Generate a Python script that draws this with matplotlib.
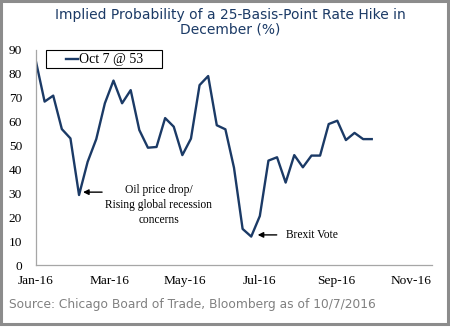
import matplotlib
matplotlib.use("Agg")
import matplotlib.pyplot as plt
from matplotlib.patches import Rectangle
from matplotlib.lines import Line2D
import datetime as dt

# Weekly observations (day offsets from Jan 1, 2016)
start = dt.date(2016, 1, 1)
week_index = list(range(40))
probability = [85.1, 68.4, 70.9, 56.9, 53.0, 29.3, 43.2, 52.7, 67.7, 77.2,
               67.7, 73.2, 56.5, 49.1, 49.4, 61.5, 57.9, 46.0, 52.9, 75.3,
               79.1, 58.5, 56.8, 40.7, 15.1, 11.9, 20.5, 43.7, 45.1, 34.5,
               46.0, 40.9, 45.8, 45.8, 59.0, 60.4, 52.3, 55.3, 52.7, 52.7]
tick_dates = [dt.date(2016, 1, 1), dt.date(2016, 3, 1), dt.date(2016, 5, 1),
              dt.date(2016, 7, 1), dt.date(2016, 9, 1), dt.date(2016, 11, 1)]
tick_labels = ["Jan-16", "Mar-16", "May-16", "Jul-16", "Sep-16", "Nov-16"]
y_ticks = [0, 10, 20, 30, 40, 50, 60, 70, 80, 90]
legend_label = "Oct 7 @ 53"

days = [w * 7 for w in week_index]
tick_pos = [(d - start).days for d in tick_dates]

navy = "#1b3a66"
serif = "Liberation Serif"

fig = plt.figure(figsize=(4.5, 3.27), dpi=100)
fig.patch.set_facecolor("white")
ax = fig.add_axes([0.08, 0.1896, 0.88, 0.6575])

ax.plot(days, probability, color=navy, lw=1.7)
ax.set_xlim(0, 322)
ax.set_ylim(0, 90)
ax.set_xticks(tick_pos)
ax.set_xticklabels(tick_labels, fontfamily=serif, fontsize=9.6)
ax.set_yticks(y_ticks)
ax.set_yticklabels([str(v) for v in y_ticks], fontfamily=serif, fontsize=9.6)
ax.tick_params(axis="y", length=0, pad=10)
ax.tick_params(axis="x", length=0, pad=7)
for s in ["top", "right"]:
    ax.spines[s].set_visible(False)
for s in ["left", "bottom"]:
    ax.spines[s].set_color("#a6a6a6")
    ax.spines[s].set_linewidth(0.9)

# Legend box (drawn in axes coordinates)
ax.add_patch(Rectangle((0.0253, 0.916), 0.2927, 0.084, transform=ax.transAxes,
                       fill=False, edgecolor="black", lw=0.8, clip_on=False))
ax.add_line(Line2D([0.0758, 0.106], [0.958, 0.958], transform=ax.transAxes,
                   color=navy, lw=1.7, clip_on=False))
ax.text(0.108, 0.958, legend_label, transform=ax.transAxes, ha="left",
        va="center", fontfamily=serif, fontsize=10)

# Annotations
ax.annotate("", xy=(36, 30.5), xytext=(56, 30.5),
            arrowprops=dict(arrowstyle="-|>", color="black", lw=1.0,
                            mutation_scale=8))
ax.text(100, 34.0, "Oil price drop/\nRising global recession\nconcerns",
        ha="center", va="top", fontfamily=serif, fontsize=8.3,
        linespacing=1.35)
ax.annotate("", xy=(178, 12.6), xytext=(198, 12.6),
            arrowprops=dict(arrowstyle="-|>", color="black", lw=1.0,
                            mutation_scale=8))
ax.text(203, 12.6, "Brexit Vote", ha="left", va="center",
        fontfamily=serif, fontsize=8.3)

fig.text(0.511, 0.975, "Implied Probability of a 25-Basis-Point Rate Hike in\nDecember (%)",
         ha="center", va="top", color=navy, fontsize=10.0,
         fontfamily="DejaVu Sans", linespacing=1.0)
fig.text(0.02, 0.07, "Source: Chicago Board of Trade, Bloomberg as of 10/7/2016",
         ha="left", va="center", color="#808080", fontsize=8.8,
         fontfamily="DejaVu Sans")

fig.patches.append(Rectangle((0.002, 0.01), 0.993, 0.987, transform=fig.transFigure,
                             fill=False, edgecolor="#8c8c8c", lw=2.2))

fig.savefig("out.png", dpi=100)
